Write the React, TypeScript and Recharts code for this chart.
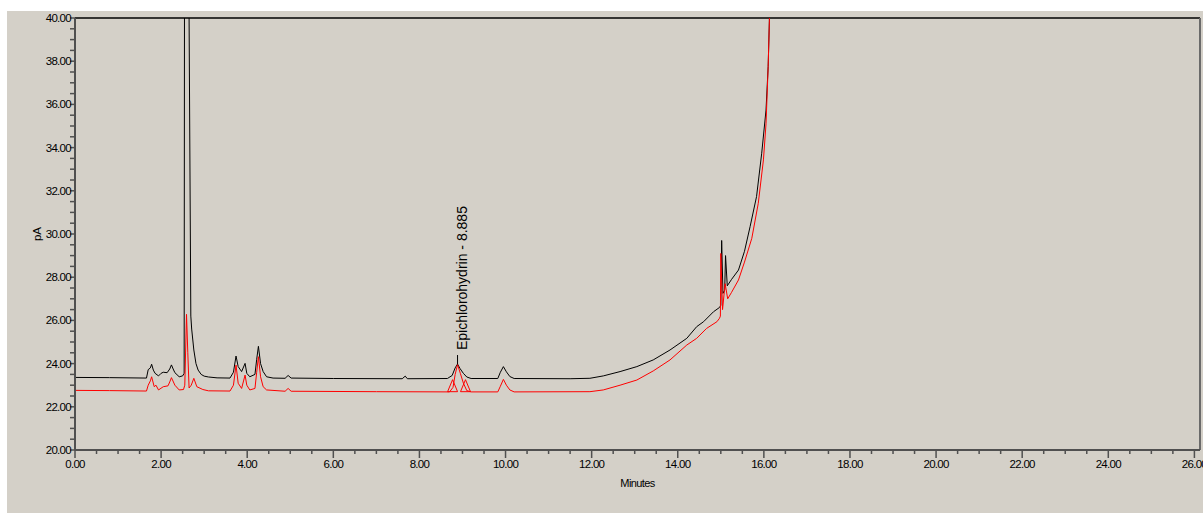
import React from 'react';
import { ComposedChart, Line, XAxis, YAxis, ReferenceLine, ReferenceDot } from 'recharts';

// retention time (min) and detector signal (pA)
const blackTimes = [
  0, 0.8, 1.66, 1.7, 1.75, 1.78, 1.82, 1.86, 1.94, 2.0, 2.05, 2.14, 2.2, 2.24, 2.28, 2.32, 2.42, 2.5,
  2.535, 2.545, 2.645, 2.65, 2.69, 2.71, 2.76, 2.81, 2.86, 2.93, 3.0, 3.1, 3.3, 3.6, 3.68, 3.74, 3.79,
  3.87, 3.95, 3.99, 4.06, 4.18, 4.22, 4.26, 4.31, 4.37, 4.45, 4.6, 4.88, 4.95, 5.02, 6.0, 7.6, 7.67,
  7.72, 8.65, 8.76, 8.83, 8.885, 8.94, 9.02, 9.1, 9.2, 9.82, 9.88, 9.95, 10.02, 10.1, 10.2, 11.5,
  11.96, 12.27, 12.66, 13.05, 13.43, 13.82, 14.21, 14.44, 14.6, 14.83, 14.97, 15.0, 15.02, 15.05,
  15.09, 15.11, 15.15, 15.25, 15.41, 15.55, 15.68, 15.83, 15.95, 16.05, 16.1, 16.13, 16.16,
];
const blackPA = [
  23.36, 23.35, 23.33, 23.72, 23.8, 23.97, 23.7, 23.55, 23.43, 23.55, 23.6, 23.58, 23.75, 23.94, 23.75,
  23.58, 23.39, 23.43, 23.55, 45, 45, 40, 26.2, 25.6, 24.63, 24.0, 23.7, 23.5, 23.42, 23.38, 23.34,
  23.33, 23.6, 24.35, 23.86, 23.63, 24.01, 23.55, 23.39, 23.5, 24.2, 24.8, 24.0, 23.63, 23.39, 23.33,
  23.32, 23.45, 23.33, 23.31, 23.3, 23.42, 23.3, 23.31, 23.45, 23.8, 23.98, 23.78, 23.55, 23.38, 23.31,
  23.31, 23.6, 23.86, 23.62, 23.4, 23.31, 23.3, 23.32, 23.43, 23.63, 23.86, 24.17, 24.63, 25.17, 25.71,
  25.94, 26.4, 26.6, 26.7, 29.7, 27.25, 27.4, 29.0, 27.6, 27.9, 28.33, 29.2, 30.34, 31.73, 33.74,
  35.74, 37.75, 40, 43,
];

const redTimes = [
  0, 0.8, 1.66, 1.7, 1.75, 1.78, 1.84, 1.88, 1.94, 2.05, 2.16, 2.2, 2.24, 2.32, 2.42, 2.52, 2.55, 2.59,
  2.62, 2.65, 2.7, 2.76, 2.83, 2.97, 3.1, 3.6, 3.68, 3.74, 3.79, 3.87, 3.95, 3.99, 4.06, 4.18, 4.22,
  4.26, 4.31, 4.37, 4.45, 4.88, 4.95, 5.02, 7.0, 8.7, 8.78, 8.83, 8.885, 8.95, 9.02, 9.1, 9.2, 9.82,
  9.88, 9.95, 10.02, 10.1, 10.2, 11.96, 12.27, 12.66, 13.05, 13.43, 13.82, 14.21, 14.44, 14.67, 14.91,
  14.97, 14.99, 15.0, 15.04, 15.1, 15.16, 15.25, 15.41, 15.55, 15.72, 15.87, 15.99, 16.05, 16.1,
  16.13, 16.16,
];
const redPA = [
  22.76, 22.75, 22.73, 23.0, 23.2, 23.39, 22.93, 23.0, 22.78, 22.93, 22.97, 23.15, 23.35, 23.0, 22.78,
  22.8, 23.0, 26.28, 24.5, 22.87, 23.0, 23.32, 22.93, 22.8, 22.74, 22.73, 23.0, 23.93, 23.09, 22.85,
  23.47, 23.0, 22.78, 22.85, 23.6, 24.32, 23.39, 22.93, 22.78, 22.72, 22.85, 22.72, 22.7, 22.69, 22.9,
  23.5, 23.95, 23.55, 23.1, 22.75, 22.69, 22.69, 22.95, 23.27, 23.0, 22.78, 22.69, 22.7, 22.78, 23.0,
  23.24, 23.66, 24.17, 24.86, 25.17, 25.63, 25.94, 26.1, 26.2, 29.1, 26.5, 27.7, 27.0, 27.3, 27.87,
  28.7, 29.8, 31.42, 33.43, 35.1, 37.75, 40, 43,
];

// integration markers on the red trace
const markerTimes = [8.77, 9.07];
const markerPA = [22.7, 22.7];

const peakName = 'Epichlorohydrin - 8.885';
const peakTime = 8.885;
const peakPA = 23.98;

const xMajor = [0, 2, 4, 6, 8, 10, 12, 14, 16, 18, 20, 22, 24, 26];
const yMajor = [20, 22, 24, 26, 28, 30, 32, 34, 36, 38, 40];
const xTicks = Array.from({ length: 53 }, (_, i) => i * 0.5);
const yTicks = Array.from({ length: 41 }, (_, i) => 20 + i * 0.5);

const blackData = blackTimes.map((t, i) => ({ t, pA: blackPA[i] }));
const redData = redTimes.map((t, i) => ({ t, pA: redPA[i] }));

const FONT = '"Liberation Sans", Arial, sans-serif';
const AXIS = '#505050';

const XTick = (props: any) => {
  const { x, y, payload } = props;
  const major = xMajor.includes(payload.value);
  return (
    <g>
      <line x1={x} x2={x} y1={y} y2={y + (major ? 8 : 4)} stroke={AXIS} strokeWidth={1.5} />
      {major && (
        <text x={x} y={y + 18} textAnchor="middle" fontSize={11.5} letterSpacing={-0.7} fill="#000" fontFamily={FONT}>
          {payload.value.toFixed(2)}
        </text>
      )}
    </g>
  );
};

const YTick = (props: any) => {
  const { x, y, payload } = props;
  const major = yMajor.includes(payload.value);
  return (
    <g>
      <line x1={x - 5} x2={x} y1={y} y2={y} stroke={AXIS} strokeWidth={1.5} />
      {major && (
        <text x={x - 4} y={y + 4} textAnchor="end" fontSize={11.5} letterSpacing={-0.7} fill="#000" fontFamily={FONT}>
          {payload.value.toFixed(2)}
        </text>
      )}
    </g>
  );
};

export default function App() {
  return (
    <div style={{ position: 'fixed', left: 7, top: 11, width: 1196, height: 502, background: '#d4d0c8' }}>
      <ComposedChart width={1196} height={502} margin={{ top: 7, right: 3, left: 0, bottom: 0 }}>
        <XAxis
          type="number"
          dataKey="t"
          domain={[0, 26.13]}
          allowDataOverflow
          ticks={xTicks}
          interval={0}
          tick={<XTick />}
          tickLine={false}
          tickSize={0}
          tickMargin={0}
          height={63}
          axisLine={{ stroke: AXIS, strokeWidth: 2 }}
          label={(p: any) => (
            <text
              x={p.viewBox.x + p.viewBox.width / 2}
              y={p.viewBox.y + 37}
              textAnchor="middle"
              fontSize={11}
              letterSpacing={-0.6}
              fontFamily={FONT}
              fill="#000"
            >
              Minutes
            </text>
          )}
        />
        <YAxis
          type="number"
          dataKey="pA"
          domain={[20, 40]}
          allowDataOverflow
          ticks={yTicks}
          interval={0}
          tick={<YTick />}
          tickLine={false}
          tickSize={0}
          tickMargin={0}
          width={68}
          axisLine={{ stroke: AXIS, strokeWidth: 2 }}
          label={(p: any) => {
            const cx = 30;
            const cy = p.viewBox.y + p.viewBox.height / 2;
            return (
              <text
                x={cx}
                y={cy}
                transform={`rotate(-90, ${cx}, ${cy})`}
                textAnchor="middle"
                dominantBaseline="central"
                fontSize={11.5}
                fontFamily={FONT}
                fill="#000"
              >
                pA
              </text>
            );
          }}
        />
        <ReferenceLine y={40} stroke="#000" strokeWidth={1.5} />
        <ReferenceLine x={26.13} stroke="#6a6a6a" strokeWidth={2} />
        <Line data={blackData} dataKey="pA" type="linear" stroke="#000" strokeWidth={1} dot={false} isAnimationActive={false} />
        <Line data={redData} dataKey="pA" type="linear" stroke="#ff0000" strokeWidth={1} dot={false} isAnimationActive={false} />
        {markerTimes.map((t, i) => (
          <ReferenceDot
            key={i}
            x={t}
            y={markerPA[i]}
            r={0}
            shape={(p: any) => (
              <polygon
                points={`${p.cx - 5},${p.cy} ${p.cx + 5},${p.cy} ${p.cx},${p.cy - 12}`}
                fill="none"
                stroke="#ff0000"
                strokeWidth={1}
              />
            )}
          />
        ))}
        <ReferenceDot
          x={peakTime}
          y={peakPA}
          r={0}
          shape={(p: any) => (
            <g>
              <line x1={p.cx} x2={p.cx} y1={p.cy} y2={p.cy - 9} stroke="#000" strokeWidth={1} />
              <text
                x={p.cx + 9}
                y={p.cy - 14}
                transform={`rotate(-90, ${p.cx + 9}, ${p.cy - 14})`}
                textAnchor="start"
                fontSize={14}
                fontFamily={FONT}
                fill="#000"
              >
                {peakName}
              </text>
            </g>
          )}
        />
      </ComposedChart>
    </div>
  );
}
